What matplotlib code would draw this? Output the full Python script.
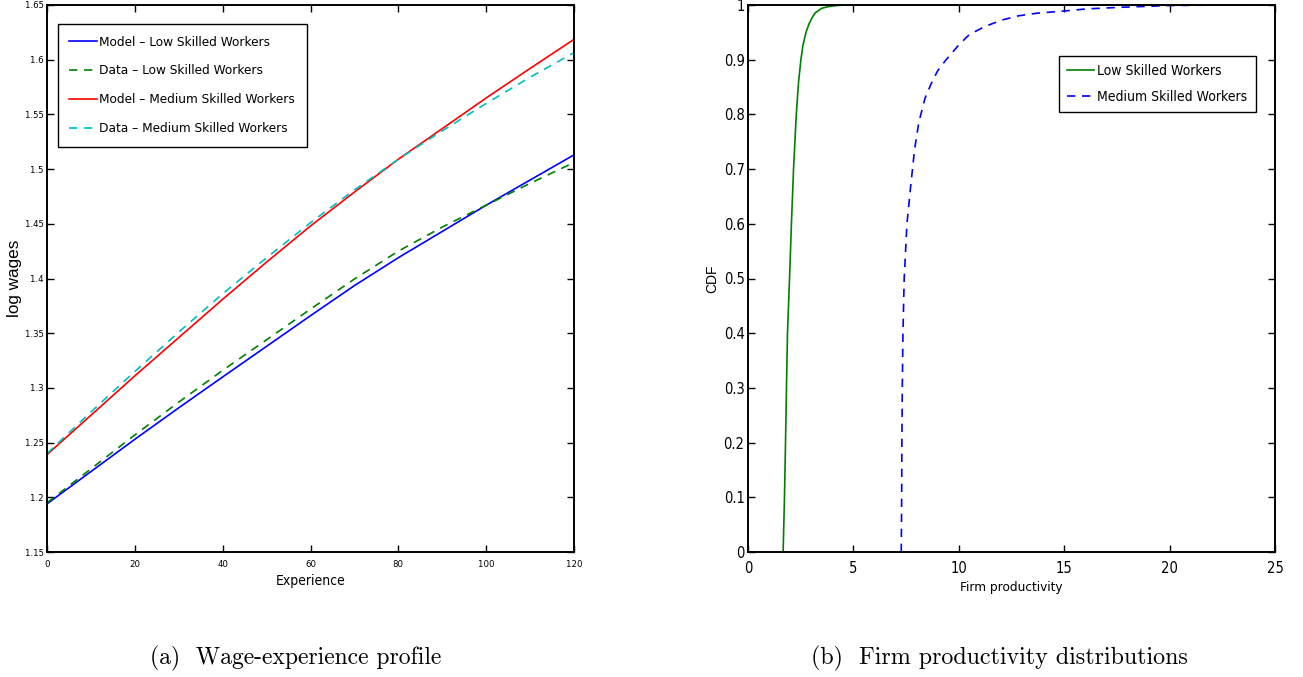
import matplotlib
matplotlib.use('Agg')
import matplotlib.pyplot as plt
from matplotlib.ticker import FuncFormatter

# ---------------- data ----------------
experience = [0, 10, 20, 30, 40, 50, 60, 70, 80, 90, 100, 110, 120]
model_low = [1.194, 1.2235, 1.253, 1.2818, 1.310, 1.338, 1.366, 1.3935, 1.419, 1.443, 1.467, 1.490, 1.513]
data_low = [1.195, 1.226, 1.257, 1.287, 1.316, 1.344, 1.372, 1.3995, 1.425, 1.447, 1.467, 1.487, 1.506]
model_med = [1.239, 1.275, 1.311, 1.346, 1.381, 1.415, 1.448, 1.479, 1.509, 1.537, 1.565, 1.592, 1.6186]
data_med = [1.240, 1.278, 1.315, 1.351, 1.386, 1.419, 1.451, 1.481, 1.509, 1.535, 1.560, 1.584, 1.6064]

low_x = [1.667, 1.73, 1.78, 1.825, 1.873, 1.97, 2.06, 2.16, 2.29, 2.4, 2.51, 2.6, 2.75, 2.9,
         3.06, 3.2, 3.5, 3.8, 4.2, 4.6, 25.0]
low_cdf = [0.0, 0.1, 0.2, 0.3, 0.4, 0.5, 0.6, 0.7, 0.8, 0.86, 0.9, 0.925, 0.95, 0.966,
           0.978, 0.986, 0.994, 0.997, 0.999, 1.0, 1.0]
med_x = [7.27, 7.29, 7.30, 7.32, 7.35, 7.41, 7.54, 7.72, 7.9, 8.1, 8.4, 8.7, 9.0, 9.4, 10.0,
         10.5, 11.2, 12.0, 12.8, 13.7, 15.0, 16.1, 17.8, 20.0, 22.5, 25.0]
med_cdf = [0.0, 0.1, 0.2, 0.3, 0.4, 0.5, 0.6, 0.67, 0.735, 0.785, 0.83, 0.857, 0.88, 0.90, 0.927,
           0.946, 0.96, 0.972, 0.98, 0.985, 0.989, 0.993, 0.996, 0.999, 1.0, 1.0]

left_xticks = [0, 20, 40, 60, 80, 100, 120]
left_yticks = [1.15, 1.2, 1.25, 1.3, 1.35, 1.4, 1.45, 1.5, 1.55, 1.6, 1.65]
right_xticks = [0, 5, 10, 15, 20, 25]
right_yticks = [0, 0.1, 0.2, 0.3, 0.4, 0.5, 0.6, 0.7, 0.8, 0.9, 1.0]

# ---------------- style ----------------
plt.rcParams['font.family'] = ['DejaVu Sans']
plt.rcParams['font.stretch'] = 'condensed'
REG = ['Liberation Sans', 'DejaVu Sans']

W, H = 1303, 677
fig = plt.figure(figsize=(W / 100, H / 100), dpi=100)

def axes_px(x0, x1, ytop, ybot):
    return fig.add_axes([x0 / W, (H - ybot) / H, (x1 - x0) / W, (ybot - ytop) / H])

fmt = FuncFormatter(lambda v, p: ('%g' % round(v, 4)))

def style(ax, size, xpad, ypad):
    for s in ax.spines.values():
        s.set_linewidth(1.4)
    ax.tick_params(direction='in', top=True, right=True, length=5, width=1,
                   labelsize=size)
    ax.tick_params(axis='x', pad=xpad)
    ax.tick_params(axis='y', pad=ypad)
    ax.xaxis.set_major_formatter(fmt)
    ax.yaxis.set_major_formatter(fmt)

# ---------------- left panel ----------------
ax1 = axes_px(47, 574, 5, 552)
ax1.plot(experience, model_low, color=(0, 0, 1), lw=1.2, label='Model \u2013 Low Skilled Workers')
ax1.plot(experience, data_low, color=(0, 0.5, 0), lw=1.2, ls=(0, (5, 4)), label='Data \u2013 Low Skilled Workers')
ax1.plot(experience, model_med, color=(1, 0, 0), lw=1.2, label='Model \u2013 Medium Skilled Workers')
ax1.plot(experience, data_med, color=(0, 0.75, 0.75), lw=1.2, ls=(0, (5, 4)), label='Data \u2013 Medium Skilled Workers')
ax1.set_xlim(0, 120)
ax1.set_ylim(1.15, 1.65)
ax1.set_xticks(left_xticks)
ax1.set_yticks(left_yticks)
style(ax1, 6.8, 6, 2.5)
ax1.set_xlabel('Experience', fontsize=10, labelpad=3.7)
ax1.set_ylabel('log wages', fontsize=12.3, family=REG, stretch='normal', labelpad=1.5)
leg1 = ax1.legend(loc='upper left', bbox_to_anchor=(0.0203, 0.965), fontsize=9.7,
                  frameon=True, fancybox=False, edgecolor='black', framealpha=1,
                  handlelength=2.05, handletextpad=0.2,
                  labelspacing=1.18, borderpad=0.85, borderaxespad=0)
leg1.get_frame().set_linewidth(1.0)

# ---------------- right panel ----------------
ax2 = axes_px(748, 1275, 5, 552)
ax2.plot(low_x, low_cdf, color=(0, 0.5, 0), lw=1.2, label='Low Skilled Workers')
ax2.plot(med_x, med_cdf, color=(0, 0, 1), lw=1.2, ls=(0, (5, 4)), label='Medium Skilled Workers')
ax2.set_xlim(0, 25)
ax2.set_ylim(0, 1)
ax2.set_xticks(right_xticks)
ax2.set_yticks(right_yticks)
style(ax2, 10.5, 6.8, 2.5)
ax2.set_xlabel('Firm productivity', fontsize=9.7, labelpad=3)
ax2.set_ylabel('CDF', fontsize=10, family=REG, stretch='normal', labelpad=3)
leg2 = ax2.legend(loc='upper left', bbox_to_anchor=(0.590, 0.907), fontsize=10,
                  frameon=True, fancybox=False, edgecolor='black', framealpha=1,
                  handlelength=1.95, handletextpad=0.2,
                  labelspacing=0.82, borderpad=0.6, borderaxespad=0)
leg2.get_frame().set_linewidth(1.0)

# ---------------- captions ----------------
fig.text(296 / W, 1 - 658 / H, '(a)  Wage-experience profile', family='cmr10',
         fontsize=17, ha='center', va='center')
fig.text(999 / W, 1 - 658 / H, '(b)  Firm productivity distributions', family='cmr10',
         fontsize=17.3, ha='center', va='center')

fig.savefig('out.png', dpi=100)
